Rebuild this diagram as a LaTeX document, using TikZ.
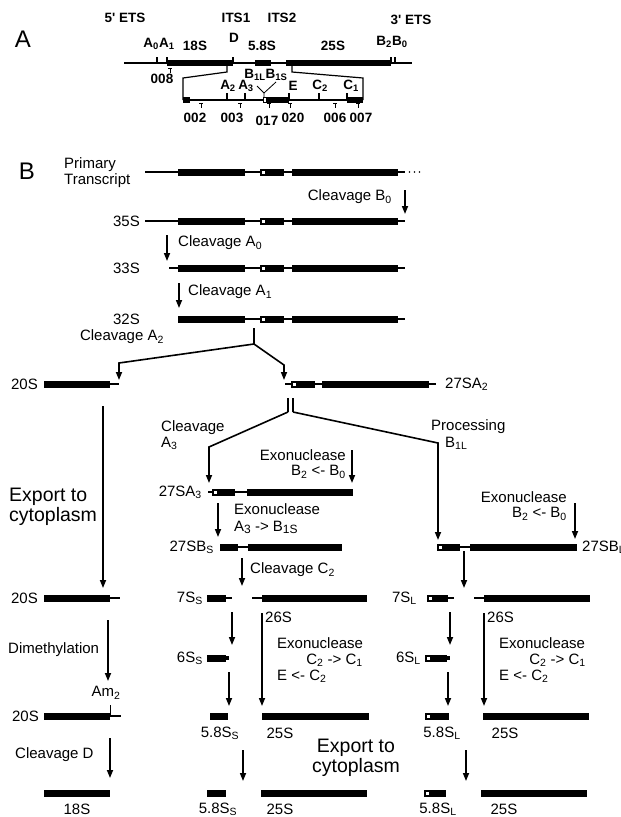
\documentclass[tikz,border=0pt]{standalone}
\usepackage{fontspec}
\setmainfont{Liberation Sans}
\usetikzlibrary{arrows.meta}
\newcommand\bk[3]{\fill (#1,#3-3.5) rectangle (#2,#3+3.5);}
\newcommand\wb[3]{\fill (#1,#3-3.5) rectangle (#2,#3+3.5);\fill[white] (#1+2,#3-1.5) rectangle (#1+5,#3+1.5);}
\newcommand\rl[3]{\draw[rna] (#1,#3) -- (#2,#3);}
\newcommand\varr[4]{\coordinate (#1s) at (#2,#3);\coordinate (#1e) at (#2,#4);\draw[arr] (#1s) -- (#1e);}
\newcommand\tmark[2]{\draw[line width=0.8pt] (#1-2,#2) -- (#1+2,#2) (#1,#2) -- (#1,#2+5);}
\newcommand\lsub[1]{\raisebox{-2pt}{\fontsize{12}{12}\selectfont #1}}
\begin{document}
\begin{tikzpicture}[x=1pt,y=-1pt,
  rna/.style={line width=1.4pt},
  pa/.style={line width=1.2pt},
  arr/.style={line width=1.6pt,-{Triangle[length=8pt,width=6pt]}},
  txt/.style={inner sep=0pt,font=\fontsize{15}{16}\selectfont},
  big/.style={inner sep=0pt,font=\fontsize{19.5}{20.5}\selectfont},
  bfl/.style={inner sep=0pt,font=\bfseries\fontsize{13.5}{15}\selectfont},
  num/.style={inner sep=0pt,font=\bfseries\fontsize{13.5}{15}\selectfont}]
\useasboundingbox (0,0) rectangle (621,817);
\fill[white] (0,0) rectangle (621,817);

% ---------------- Panel A ----------------
\node[inner sep=0pt,font=\fontsize{24}{28}\selectfont] (lA) at (23,39) {A};
\node[bfl] (h5) at (125,18) {5\textquotesingle\ ETS};
\node[bfl] (h1) at (236,18) {ITS1};
\node[bfl] (h2) at (282,18) {ITS2};
\node[bfl] (h3) at (411,20) {3\textquotesingle\ ETS};
\draw[pa] (124,63) -- (412,63);
\fill (167,60) rectangle (233,66);
\fill (255,60) rectangle (271,66);
\fill (286,60) rectangle (391,66);
\foreach \x in {157,167,233,391,395} \draw[pa] (\x,57) -- (\x,63);
\node[bfl] (a01) at (159,44) {A\textsubscript{0}A\textsubscript{1}};
\node[bfl] (s18) at (195,46) {18S};
\node[bfl] (sD) at (234,38) {D};
\node[bfl] (s58) at (262,46) {5.8S};
\node[bfl] (s25) at (333,46) {25S};
\node[bfl] (b20) at (392,42) {B\textsubscript{2}B\textsubscript{0}};
\tmark{170}{68}
\node[num] (n008) at (162,79) {008};
\draw[pa] (227,66) -- (227,72) -- (183,78) -- (183,100);
\draw[pa] (292,66) -- (292,72) -- (363,78) -- (363,100);
\draw[pa] (183,100) -- (363,100);
\fill (183,97) rectangle (190,103);
\filldraw[fill=white,draw=black,line width=0.5pt] (263,97.5) rectangle (266.5,102.5);
\fill (266.5,97) rectangle (289,103);
\fill (347,97) rectangle (363,103);
\foreach \x in {227,245,289,319,347} \draw[pa] (\x,93) -- (\x,100);
\draw[line width=0.8pt] (264,97) -- (264,93) -- (257,86);
\draw[line width=0.8pt] (264,93) -- (276,82);
\node[bfl] (la2) at (228,86) {A\textsubscript{2}};
\node[bfl] (la3) at (246,86) {A\textsubscript{3}};
\node[bfl] (lb1) at (266,75) {B\textsubscript{1L}B\textsubscript{1S}};
\node[bfl] (lE) at (293,86) {E};
\node[bfl] (lc2) at (320,86) {C\textsubscript{2}};
\node[bfl] (lc1) at (351,86) {C\textsubscript{1}};
\foreach \x in {201,240,269,290,335,358} {\tmark{\x}{103}}
\node[num] (n002) at (195,118) {002};
\node[num] (n003) at (232,118) {003};
\node[num] (n017) at (267,121) {017};
\node[num] (n020) at (293,118) {020};
\node[num] (n006) at (335,118) {006};
\node[num] (n007) at (361,118) {007};

% ---------------- Panel B ----------------
\node[inner sep=0pt,font=\fontsize{24}{28}\selectfont] (lB) at (27,171) {B};
\node[txt,anchor=west,align=left] (prim) at (64,173) {Primary\\Transcript};
% primary transcript
\rl{145}{405}{172}\bk{178}{245}{172}\wb{260}{284}{172}\bk{292}{398}{172}
\foreach \x in {409.5,414.5,419.5} \fill (\x,172) circle (0.9);
\node[txt,anchor=east] (cb0) at (392,197) {Cleavage B\textsubscript{0}};
\varr{ab0}{405}{190}{214}
% 35S
\node[txt,anchor=east] (l35) at (140,221) {35S};
\rl{145}{405}{221}\bk{178}{245}{221}\wb{260}{284}{221}\bk{292}{398}{221}
\varr{aa0}{167}{235}{261}
\node[txt,anchor=west] (ca0) at (178,243) {Cleavage A\textsubscript{0}};
% 33S
\node[txt,anchor=east] (l33) at (140,268) {33S};
\rl{169}{405}{268}\bk{178}{245}{268}\wb{260}{284}{268}\bk{292}{398}{268}
\varr{aa1}{179}{283}{308}
\node[txt,anchor=west] (ca1) at (188,292) {Cleavage A\textsubscript{1}};
% 32S
\node[txt,anchor=east] (l32) at (140,319) {32S};
\rl{178}{405}{319}\bk{178}{245}{319}\wb{260}{284}{319}\bk{292}{398}{319}
\node[txt] (ca2) at (122,337) {Cleavage A\textsubscript{2}};
\coordinate (a2s) at (254,328);
\coordinate (a2m) at (254,344);
\coordinate (a2l) at (119,363);
\coordinate (a2le) at (119,380);
\coordinate (a2r) at (284,365);
\coordinate (a2re) at (284,380);
\draw[line width=1.6pt] (a2s) -- (a2m);
\draw[arr] (a2m) -- (a2l) -- (a2le);
\draw[arr] (a2m) -- (a2r) -- (a2re);
% 20S and 27SA2
\node[txt,anchor=east] (l20a) at (38,384) {20S};
\bk{44}{110}{384}\rl{110}{119}{384}
\rl{285}{436}{384}\wb{291}{315}{384}\bk{322}{429}{384}
\node[txt,anchor=west] (l27a2) at (445,384) {27SA\textsubscript{2}};
\varr{aex}{103}{406}{588}
\node[big,anchor=west,align=left] (exp1) at (9,507) {Export to\\cytoplasm};
% split of 27SA2
\coordinate (d1s) at (288,398);
\coordinate (d1m) at (288,412);
\coordinate (d1k) at (209,447);
\coordinate (d1e) at (209,483);
\coordinate (d2s) at (293,398);
\coordinate (d2m) at (293,412);
\coordinate (d2k) at (438,443);
\coordinate (d2e) at (438,540);
\draw[line width=1.6pt] (d1s) -- (d1m);
\draw[line width=1.6pt] (d2s) -- (d2m);
\draw[arr] (d1m) -- (d1k) -- (d1e);
\draw[arr] (d2m) -- (d2k) -- (d2e);
\node[txt,anchor=west,align=left] (ca3) at (161,435) {Cleavage\\A\textsubscript{3}};
\node[txt,anchor=west] (pr1) at (431,427) {Processing};
\node[txt,anchor=west] (pr2) at (445,443) {B\textsubscript{1L}};
\node[txt,anchor=east] (ex1a) at (346,455) {Exonuclease};
\node[txt,anchor=east] (ex1b) at (346,472) {B\textsubscript{2} <- B\textsubscript{0}};
\varr{aex1}{352}{450}{483}
% 27SA3
\node[txt,anchor=east] (l27a3) at (202,492) {27SA\textsubscript{3}};
\rl{208}{247}{492}\wb{212}{235}{492}\bk{247}{353}{492}
\varr{aex2}{218}{503}{537}
\node[txt,anchor=west] (ex2a) at (234,509) {Exonuclease};
\node[txt,anchor=west] (ex2b) at (234,527) {A\lsub{3} -> B\lsub{1S}};
% 27SBS
\node[txt,anchor=east] (l27bs) at (214,547) {27SB\textsubscript{S}};
\bk{220}{238}{547}\rl{238}{248}{547}\bk{248}{342}{547}
\varr{ac2}{242}{558}{586}
\node[txt,anchor=west] (cc2) at (250,570) {Cleavage C\textsubscript{2}};
% 27SBL
\node[txt,anchor=east] (ex3a) at (567,497) {Exonuclease};
\node[txt,anchor=east] (ex3b) at (567,514) {B\textsubscript{2} <- B\textsubscript{0}};
\varr{aex3}{575}{503}{539}
\wb{437}{460}{547}\rl{460}{470}{547}\bk{470}{577}{547}
\node[txt,anchor=west] (l27bl) at (582,547) {27SB\textsubscript{L}};
\varr{al1}{464}{551}{588}
% 20S / 7S row
\node[txt,anchor=east] (l20b) at (38,598) {20S};
\bk{44}{110}{598}\rl{110}{120}{598}
\node[txt,anchor=east] (l7s) at (203,598) {7S\textsubscript{S}};
\bk{207}{226}{598}\rl{226}{232}{598}\rl{252}{262}{598}\bk{262}{367}{598}
\node[txt,anchor=west] (l26a) at (265,617) {26S};
\node[txt,anchor=east] (l7l) at (417,598) {7S\textsubscript{L}};
\wb{427}{448}{598}\rl{448}{454}{598}\rl{474}{484}{598}\bk{484}{590}{598}
\node[txt,anchor=west] (l26b) at (487,617) {26S};
\varr{adm}{108}{620}{681}
\node[txt,anchor=west] (dm) at (8,650) {Dimethylation};
\varr{as1}{232}{612}{645}
\varr{al2}{450}{612}{645}
\varr{as2}{262}{613}{706}
\varr{al3}{484}{613}{706}
\node[txt,anchor=west] (ex4a) at (277,643) {Exonuclease};
\node[txt,anchor=east] (ex4b) at (363,660) {C\textsubscript{2} -> C\textsubscript{1}};
\node[txt,anchor=west] (ex4c) at (277,676) {E <- C\textsubscript{2}};
\node[txt,anchor=west] (ex5a) at (499,643) {Exonuclease};
\node[txt,anchor=east] (ex5b) at (586,660) {C\textsubscript{2} -> C\textsubscript{1}};
\node[txt,anchor=west] (ex5c) at (499,676) {E <- C\textsubscript{2}};
% 6S row
\node[txt,anchor=east] (l6s) at (203,658) {6S\textsubscript{S}};
\bk{207}{226}{658}\fill (226,656) rectangle (229,660);
\node[txt,anchor=east] (l6l) at (421,658) {6S\textsubscript{L}};
\wb{425}{447}{658}\fill (447,656) rectangle (450,660);
\varr{as3}{229}{672}{706}
\varr{al4}{448}{672}{706}
% 20S / 5.8S row
\node[txt] (am2) at (106,693) {Am\textsubscript{2}};
\node[txt,anchor=east] (l20c) at (39,716) {20S};
\bk{44}{110}{716}\rl{110}{121}{716}
\draw[line width=1pt] (110,705) -- (110,716);
\bk{210}{228}{716}\bk{262}{369}{716}\wb{425}{449}{716}\bk{483}{589}{716}
\node[txt] (l58a) at (220,733) {5.8S\textsubscript{S}};
\node[txt] (l25a) at (280,733) {25S};
\node[txt] (l58b) at (442,733) {5.8S\textsubscript{L}};
\node[txt] (l25b) at (505,733) {25S};
\node[txt,anchor=west] (cd) at (15,755) {Cleavage D};
\varr{acd}{110}{738}{778}
\node[big,align=center] (exp2) at (356,758) {Export to\\cytoplasm};
\varr{as4}{243}{750}{781}
\varr{al5}{466}{750}{781}
% bottom row
\bk{44}{110}{793}\bk{207}{226}{793}\bk{261}{367}{793}\wb{424}{446}{793}\bk{481}{587}{793}
\node[txt] (l18) at (77,809) {18S};
\node[txt] (l58c) at (218,809) {5.8S\textsubscript{S}};
\node[txt] (l25c) at (280,809) {25S};
\node[txt] (l58d) at (438,809) {5.8S\textsubscript{L}};
\node[txt] (l25d) at (504,809) {25S};
\end{tikzpicture}
\end{document}
